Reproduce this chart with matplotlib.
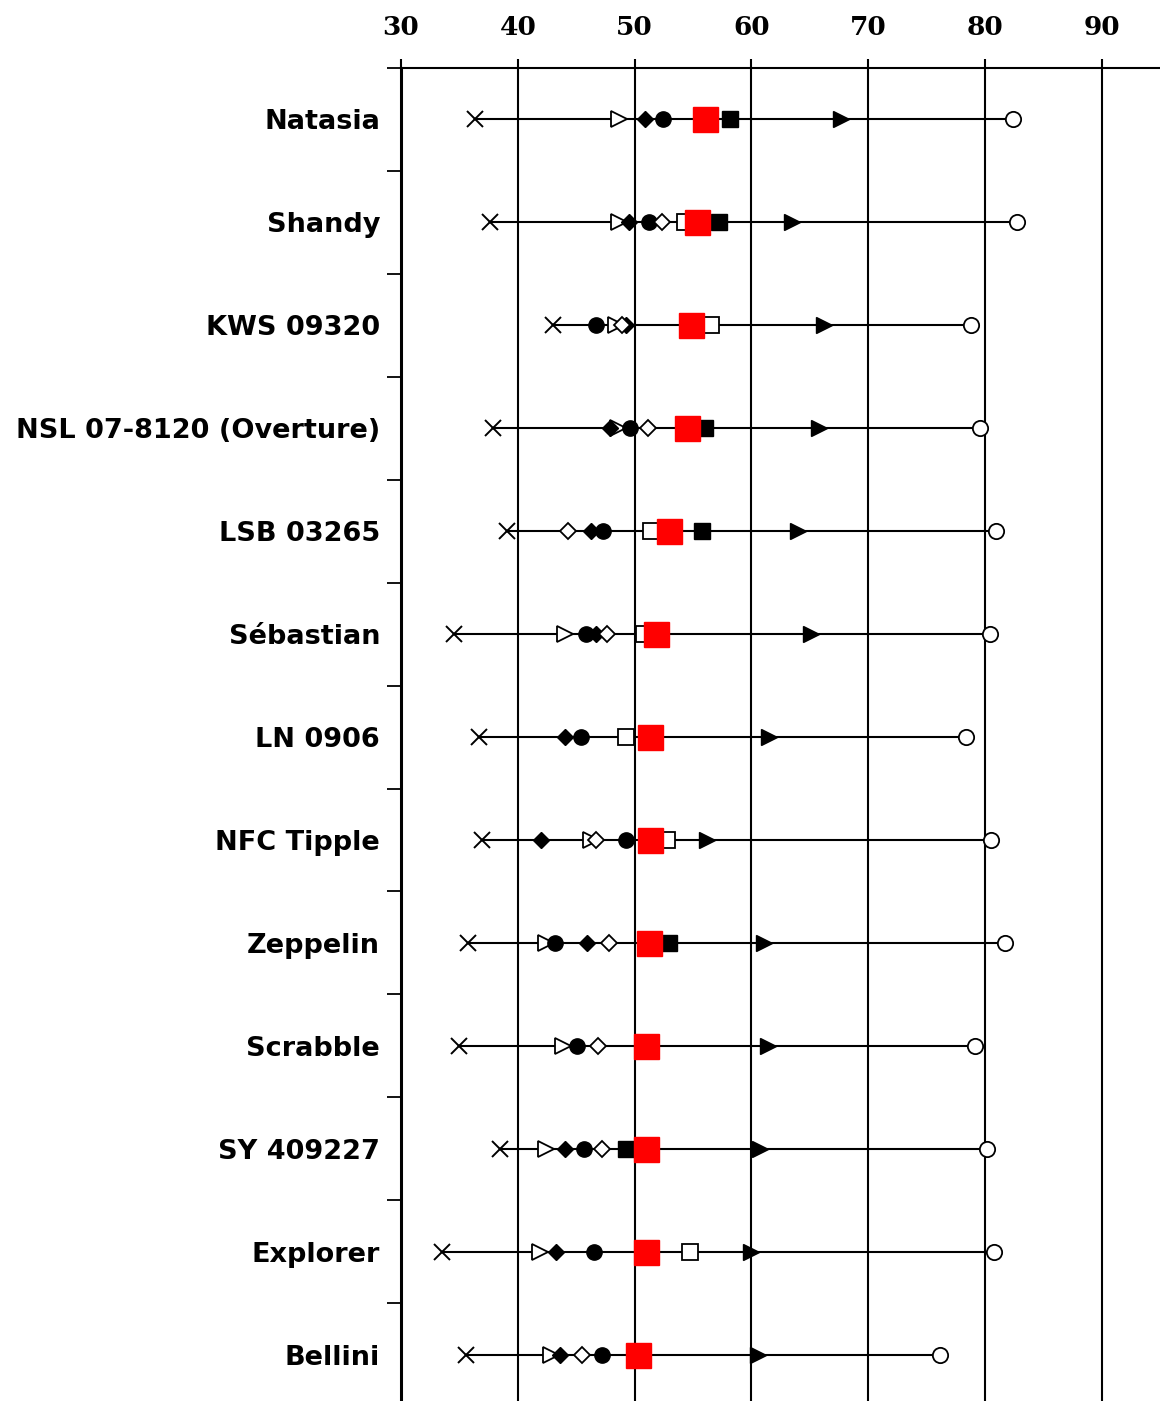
import numpy as np
import matplotlib
matplotlib.use("Agg")
import matplotlib.pyplot as plt

nan = np.nan

varieties = ["Natasia", "Shandy", "KWS 09320", "NSL 07-8120 (Overture)",
             "LSB 03265", "Sébastian", "LN 0906", "NFC Tipple", "Zeppelin",
             "Scrabble", "SY 409227", "Explorer", "Bellini"]

# one value per variety (top to bottom)
min_x     = [36.3, 37.6, 43.05, 37.9, 39.1, 34.5, 36.7, 36.95, 35.7, 35.0, 38.45, 33.5, 35.6]
open_tri  = [48.7, 48.7, 48.4, 48.6, nan, 44.0, nan, 46.3, 42.4, 43.9, 42.4, 41.9, 42.8]
fill_dia  = [50.85, 49.5, 49.3, 47.9, 46.3, 46.65, 44.0, 42.0, 45.9, nan, 44.0, 43.3, 43.6]
fill_circ = [52.4, 51.2, 46.7, 49.6, 47.3, 45.8, 45.4, 49.3, 43.2, 45.1, 45.7, 46.5, 47.2]
open_dia  = [nan, 52.3, 48.9, 51.1, 44.3, 47.6, nan, 46.7, 47.8, 46.9, 47.2, nan, 45.5]
open_sq   = [nan, 54.3, 56.5, nan, 51.4, 50.8, 49.25, 52.8, nan, nan, nan, 54.75, nan]
mean_red  = [56.0, 55.3, 54.8, 54.5, 52.95, 51.8, 51.3, 51.3, 51.25, 51.0, 51.0, 51.0, 50.3]
fill_sq   = [58.2, 57.2, nan, 56.0, 55.8, nan, nan, nan, 52.9, nan, 49.3, nan, nan]
fill_tri  = [67.7, 63.5, 66.2, 65.8, 64.0, 65.1, 61.5, 56.2, 61.1, 61.4, 60.7, 60.0, 60.6]
max_circ  = [82.4, 82.7, 78.75, 79.6, 80.9, 80.4, 78.4, 80.5, 81.7, 79.1, 80.2, 80.8, 76.1]

xticks = [30, 40, 50, 60, 70, 80, 90]

fig = plt.figure(figsize=(11.6, 14.01), dpi=100)
ax = fig.add_axes([401 / 1160, 0, 1 - 401 / 1160, 1 - 68 / 1401])

y = np.arange(len(varieties))

# range line from lowest to highest
ax.hlines(y, min_x, max_circ, color="black", lw=1.5, zorder=2)

ax.plot(min_x, y, "x", color="black", ms=11, mew=1.4, zorder=3)
ax.plot(open_tri, y, ">", mfc="white", mec="black", ms=12, mew=1.3, ls="none", zorder=3)
ax.plot(fill_dia, y, "D", color="black", ms=8, ls="none", zorder=4)
ax.plot(fill_circ, y, "o", color="black", ms=11, ls="none", zorder=4)
ax.plot(open_dia, y, "D", mfc="white", mec="black", ms=8, mew=1.3, ls="none", zorder=4)
ax.plot(open_sq, y, "s", mfc="white", mec="black", ms=11, mew=1.3, ls="none", zorder=4)
ax.plot(fill_sq, y, "s", color="black", ms=11, ls="none", zorder=4)
ax.plot(fill_tri, y, ">", color="black", ms=12, ls="none", zorder=4)
ax.plot(max_circ, y, "o", mfc="white", mec="black", ms=11, mew=1.3, ls="none", zorder=4)
ax.plot(mean_red, y, "s", color="red", ms=18, ls="none", zorder=5)

ax.set_xlim(30, 30 + (1160 - 401) / 11.683)
ax.set_ylim(len(varieties) - 0.55, -0.495)

ax.xaxis.tick_top()
ax.set_xticks(xticks)
ax.set_xticklabels([str(t) for t in xticks], fontfamily="DejaVu Serif",
                   fontweight="bold", fontsize=19)
ax.tick_params(axis="x", direction="out", length=6.5, width=1.5, pad=14)
ax.grid(axis="x", color="black", lw=1.5)

ax.set_yticks(np.arange(len(varieties)) - 0.5)
ax.set_yticklabels([])
ax.set_yticks(y, minor=True)
ax.set_yticklabels(varieties, minor=True, fontfamily="DejaVu Sans",
                   fontweight="bold", fontsize=19.5)
ax.tick_params(axis="y", which="major", direction="out", length=10, width=1.3)
ax.tick_params(axis="y", which="minor", length=0, pad=15)

for side in ["right", "bottom"]:
    ax.spines[side].set_visible(False)
ax.spines["top"].set_linewidth(1.5)
ax.spines["left"].set_linewidth(2.2)

fig.savefig("out.png", dpi=100)
